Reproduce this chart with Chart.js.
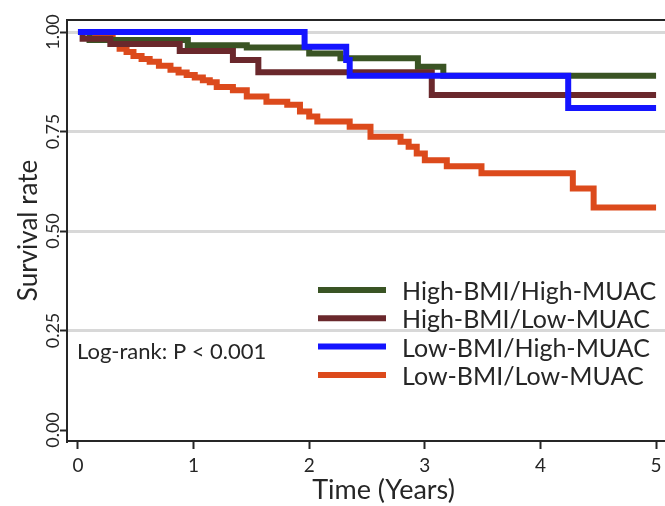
<!DOCTYPE html>
<html lang="en">
<head>
<meta charset="UTF-8">
<title>survival</title>
<script src="https://cdn.jsdelivr.net/npm/chart.js"></script>
<style>
  html, body { margin: 0; padding: 0; background: #fff; overflow: hidden; }
  #wrap { width: 700px; height: 506px; }
</style>
</head>
<body>
<div id="wrap"><canvas id="myChart" width="700" height="506"></canvas></div>
<script>
// group names, same order as the legend
const groups = ['High-BMI/High-MUAC', 'High-BMI/Low-MUAC', 'Low-BMI/High-MUAC', 'Low-BMI/Low-MUAC'];
const colors = ['#3a5424', '#6a282c', '#1414ff', '#dc4a1c'];

// Kaplan-Meier steps (time in years, survival after the drop)
const hhTime = [0, 0.1, 0.95, 1.46, 2.0, 2.27, 2.94, 3.16, 5];
const hhSurv = [1, 0.98, 0.967, 0.961, 0.946, 0.934, 0.913, 0.89, 0.89];

const hlTime = [0, 0.04, 0.28, 0.88, 1.34, 1.56, 3.06, 5];
const hlSurv = [1, 0.983, 0.97, 0.952, 0.93, 0.899, 0.842, 0.842];

const lhTime = [0, 1.96, 2.32, 2.35, 4.24, 5];
const lhSurv = [1, 0.963, 0.93, 0.89, 0.809, 0.809];

const llTime = [0, 0.15, 0.3, 0.36, 0.42, 0.48, 0.55, 0.62, 0.7, 0.8, 0.87, 0.94, 1.01, 1.08, 1.14, 1.2, 1.34, 1.46, 1.63, 1.81, 1.92, 2.0, 2.07, 2.35, 2.53, 2.79, 2.86, 2.93, 3.0, 3.19, 3.49, 4.28, 4.46, 5];
const llSurv = [1, 0.99, 0.975, 0.958, 0.95, 0.94, 0.932, 0.925, 0.915, 0.905, 0.898, 0.892, 0.886, 0.879, 0.874, 0.862, 0.854, 0.838, 0.825, 0.817, 0.8, 0.788, 0.775, 0.762, 0.737, 0.724, 0.712, 0.695, 0.678, 0.663, 0.645, 0.607, 0.559, 0.559];

const xTicks = [0, 1, 2, 3, 4, 5];
const yTicks = [0, 0.25, 0.5, 0.75, 1];
const logRankText = 'Log-rank: P < 0.001';

const FONT = 'Lato';
const INK = '#262626';

function toPoints(t, s) {
  return t.map((v, i) => ({x: v, y: s[i]}));
}

const series = [[hhTime, hhSurv], [hlTime, hlSurv], [lhTime, lhSurv], [llTime, llSurv]];
// blue on top, then maroon, green, orange at the bottom
const drawOrder = [2, 1, 0, 3];

const datasets = series.map((s, i) => ({
  label: groups[i],
  data: toPoints(s[0], s[1]),
  borderColor: colors[i],
  backgroundColor: colors[i],
  borderWidth: 6,
  pointRadius: 0,
  stepped: 'before',
  fill: false,
  order: drawOrder[i],
  borderCapStyle: 'butt',
  borderJoinStyle: 'miter'
}));

// legend + log-rank note drawn inside the plot
const notes = {
  id: 'notes',
  afterDatasetsDraw(chart) {
    const ctx = chart.ctx;
    ctx.save();
    chart.data.datasets.forEach((ds, i) => {
      const y = 290 + i * 28.3;
      ctx.strokeStyle = ds.borderColor;
      ctx.lineWidth = 6;
      ctx.beginPath();
      ctx.moveTo(318, y);
      ctx.lineTo(386, y);
      ctx.stroke();
      ctx.fillStyle = INK;
      ctx.font = '25px ' + FONT;
      ctx.textBaseline = 'middle';
      ctx.textAlign = 'left';
      ctx.fillText(ds.label, 402, y + 2);
    });
    ctx.font = '22px ' + FONT;
    ctx.fillText(logRankText, 77, 352);
    ctx.restore();
  }
};

const ctx = document.getElementById('myChart').getContext('2d');
const myChart = new Chart(ctx, {
  type: 'line',
  data: {datasets: datasets},
  options: {
    responsive: false,
    animation: false,
    layout: {padding: {top: 20, right: 0, left: 0, bottom: 0}},
    plugins: {
      legend: {display: false},
      tooltip: {enabled: false}
    },
    scales: {
      x: {
        type: 'linear',
        min: -0.095,
        max: 5.38,
        afterBuildTicks: s => { s.ticks = xTicks.map(v => ({value: v})); },
        afterFit: s => { s.height = 65; },
        ticks: {
          color: INK,
          font: {family: FONT, size: 19},
          padding: 5,
          maxRotation: 0,
          callback: v => String(v)
        },
        grid: {drawOnChartArea: false, drawTicks: true, tickLength: 8, tickColor: INK, tickWidth: 2},
        border: {display: true, color: INK, width: 2},
        title: {
          display: true,
          text: 'Time (Years)',
          color: INK,
          font: {family: FONT, size: 27},
          padding: {top: 0, bottom: 0}
        }
      },
      xTop: {
        type: 'linear',
        position: 'top',
        min: -0.095,
        max: 5.38,
        afterFit: s => { s.height = 0; },
        ticks: {display: false},
        grid: {display: false},
        border: {display: true, color: INK, width: 2}
      },
      y: {
        min: -0.0276,
        max: 1.0302,
        afterBuildTicks: s => { s.ticks = yTicks.map(v => ({value: v})); },
        afterFit: s => { s.width = 67; },
        ticks: {
          color: INK,
          font: {family: FONT, size: 18},
          minRotation: 90,
          maxRotation: 90,
          crossAlign: 'center',
          padding: -11,
          callback: v => v.toFixed(2)
        },
        grid: {
          color: c => c.tick && c.tick.value === 0 ? 'rgba(0,0,0,0)' : '#d8d8d8',
          lineWidth: 3,
          drawTicks: true,
          tickLength: 7,
          tickColor: INK,
          tickWidth: 2
        },
        border: {display: true, color: INK, width: 2},
        title: {
          display: true,
          text: 'Survival rate',
          color: INK,
          font: {family: FONT, size: 26},
          padding: {top: 13, bottom: 0}
        }
      }
    }
  },
  plugins: [notes]
});
</script>
</body>
</html>
